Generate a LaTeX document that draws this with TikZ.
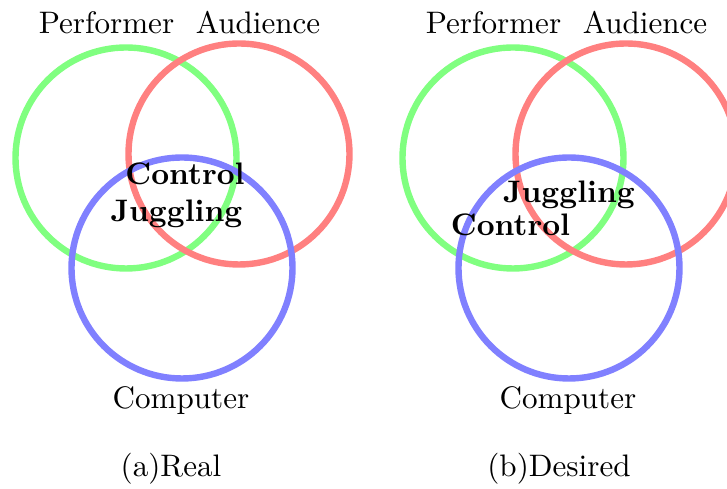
\documentclass[tikz,border=0pt]{standalone}
\begin{document}
\begin{tikzpicture}[x=0.328pt,y=-0.328pt,
  ring/.style={line width=2.1pt},
  lbl/.style={anchor=base,inner sep=0pt,font=\fontsize{10.2}{12}\selectfont},
  blbl/.style={anchor=base,inner sep=0pt,font=\fontsize{10.2}{12}\selectfont\bfseries}]
\useasboundingbox (0,0) rectangle (727,489);
% left
\draw[ring,green!50] (126,158) circle (110.5);
\draw[ring,red!50] (239,154) circle (110.5);
\draw[ring,blue!50] (182,268) circle (110.5);
\node[lbl] (p1) at (106.5,34) {Performer};
\node[lbl] (a1) at (258,34) {Audience};
\node[lbl] (c1) at (181,409) {Computer};
\node[lbl] (r1) at (171,477) {(a)Real};
\node[blbl] (ctl1) at (185,185) {Control};
\node[blbl] (jug1) at (176.5,222) {Juggling};
% right
\draw[ring,green!50] (513,158) circle (110.5);
\draw[ring,red!50] (626,154) circle (110.5);
\draw[ring,blue!50] (569,268) circle (110.5);
\node[lbl] (p2) at (493.5,34) {Performer};
\node[lbl] (a2) at (645,34) {Audience};
\node[lbl] (c2) at (568,409) {Computer};
\node[lbl] (r2) at (559,477) {(b)Desired};
\node[blbl] (jug2) at (569,203) {Juggling};
\node[blbl] (ctl2) at (510.5,236) {Control};
\end{tikzpicture}
\end{document}
